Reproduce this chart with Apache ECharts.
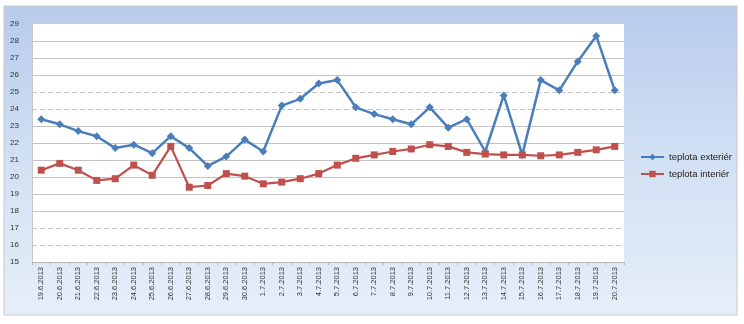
<!DOCTYPE html>
<html><head><meta charset="utf-8">
<script src="https://cdn.jsdelivr.net/npm/echarts@6/dist/echarts.min.js"></script>
<style>html,body{margin:0;padding:0;background:#fff}#c{width:744px;height:324px}</style>
</head><body><div id="c"></div>
<script>
const categories = ['19.6.2013','20.6.2013','21.6.2013','22.6.2013','23.6.2013','24.6.2013','25.6.2013','26.6.2013','27.6.2013','28.6.2013','29.6.2013','30.6.2013','1.7.2013','2.7.2013','3.7.2013','4.7.2013','5.7.2013','6.7.2013','7.7.2013','8.7.2013','9.7.2013','10.7.2013','11.7.2013','12.7.2013','13.7.2013','14.7.2013','15.7.2013','16.7.2013','17.7.2013','18.7.2013','19.7.2013','20.7.2013'];
const exterier = [23.4,23.1,22.7,22.4,21.7,21.9,21.4,22.4,21.7,20.65,21.2,22.2,21.5,24.2,24.6,25.5,25.7,24.1,23.7,23.4,23.1,24.1,22.9,23.4,21.5,24.8,21.3,25.7,25.1,26.8,28.3,25.1];
const interier = [20.4,20.8,20.4,19.8,19.9,20.7,20.1,21.8,19.4,19.5,20.2,20.05,19.6,19.7,19.9,20.2,20.7,21.1,21.3,21.5,21.65,21.9,21.8,21.45,21.35,21.3,21.3,21.25,21.3,21.45,21.6,21.8];
const seriesNames = ['teplota exteriér','teplota interiér'];
const yMin = 15, yMax = 29, yStep = 1;

const G = '#c4c4c4', T = 'rgba(0,0,0,0)';
const solidColors = [T,T,T,G,G,G,G,G,G,T,T,G,G,G,T];
const dashedColors = [T,G,G,T,T,T,T,T,T,G,G,T,T,T,T];

const chart = echarts.init(document.getElementById('c'));
chart.setOption({
  animation:false,
  graphic:[{type:'rect',z:-10,shape:{x:4,y:6,width:733,height:309},
    style:{fill:new echarts.graphic.LinearGradient(0,0,0,1,[{offset:0,color:'#b7cbeb'},{offset:0.5,color:'#d2e0f3'},{offset:1,color:'#e6eff9'}]),stroke:'#c8c8c8',lineWidth:1}}],
  grid:{left:32,right:120,top:24,bottom:62,show:true,backgroundColor:'#ffffff',borderWidth:0},
  legend:{orient:'vertical',left:635,top:147,itemGap:7,itemWidth:23,itemHeight:8,
    textStyle:{fontFamily:'Liberation Sans',fontSize:9.5,color:'#222'},data:seriesNames},
  xAxis:{type:'category',data:categories,boundaryGap:true,
    axisLine:{lineStyle:{color:'#b8b8b8'}},axisTick:{show:true,lineStyle:{color:'#b8b8b8'},length:3},
    axisLabel:{interval:0,rotate:90,fontFamily:'Liberation Sans',fontSize:7.5,color:'#333',margin:5}},
  yAxis:[
    {type:'value',min:yMin,max:yMax,interval:yStep,
     axisLine:{show:true,lineStyle:{color:'#c8c8c8'}},axisTick:{show:false},
     axisLabel:{fontFamily:'Liberation Sans',fontSize:8,color:'#333',margin:13},
     splitLine:{show:true,lineStyle:{color:solidColors,width:1.2}}},
    {type:'value',min:yMin,max:yMax,interval:yStep,position:'left',
     axisLine:{show:false},axisTick:{show:false},axisLabel:{show:false},
     splitLine:{show:true,lineStyle:{color:dashedColors,type:[5,3],width:1.2}}}
  ],
  series:[
    {name:seriesNames[0],type:'line',data:exterier,symbol:'diamond',symbolSize:8,
     lineStyle:{color:'#4a7ebb',width:2.5},itemStyle:{color:'#4a7ebb'},z:3},
    {name:seriesNames[1],type:'line',data:interier,symbol:'rect',symbolSize:7,
     lineStyle:{color:'#c0504d',width:2.2},itemStyle:{color:'#c0504d'},z:3}
  ]
});
</script></body></html>
